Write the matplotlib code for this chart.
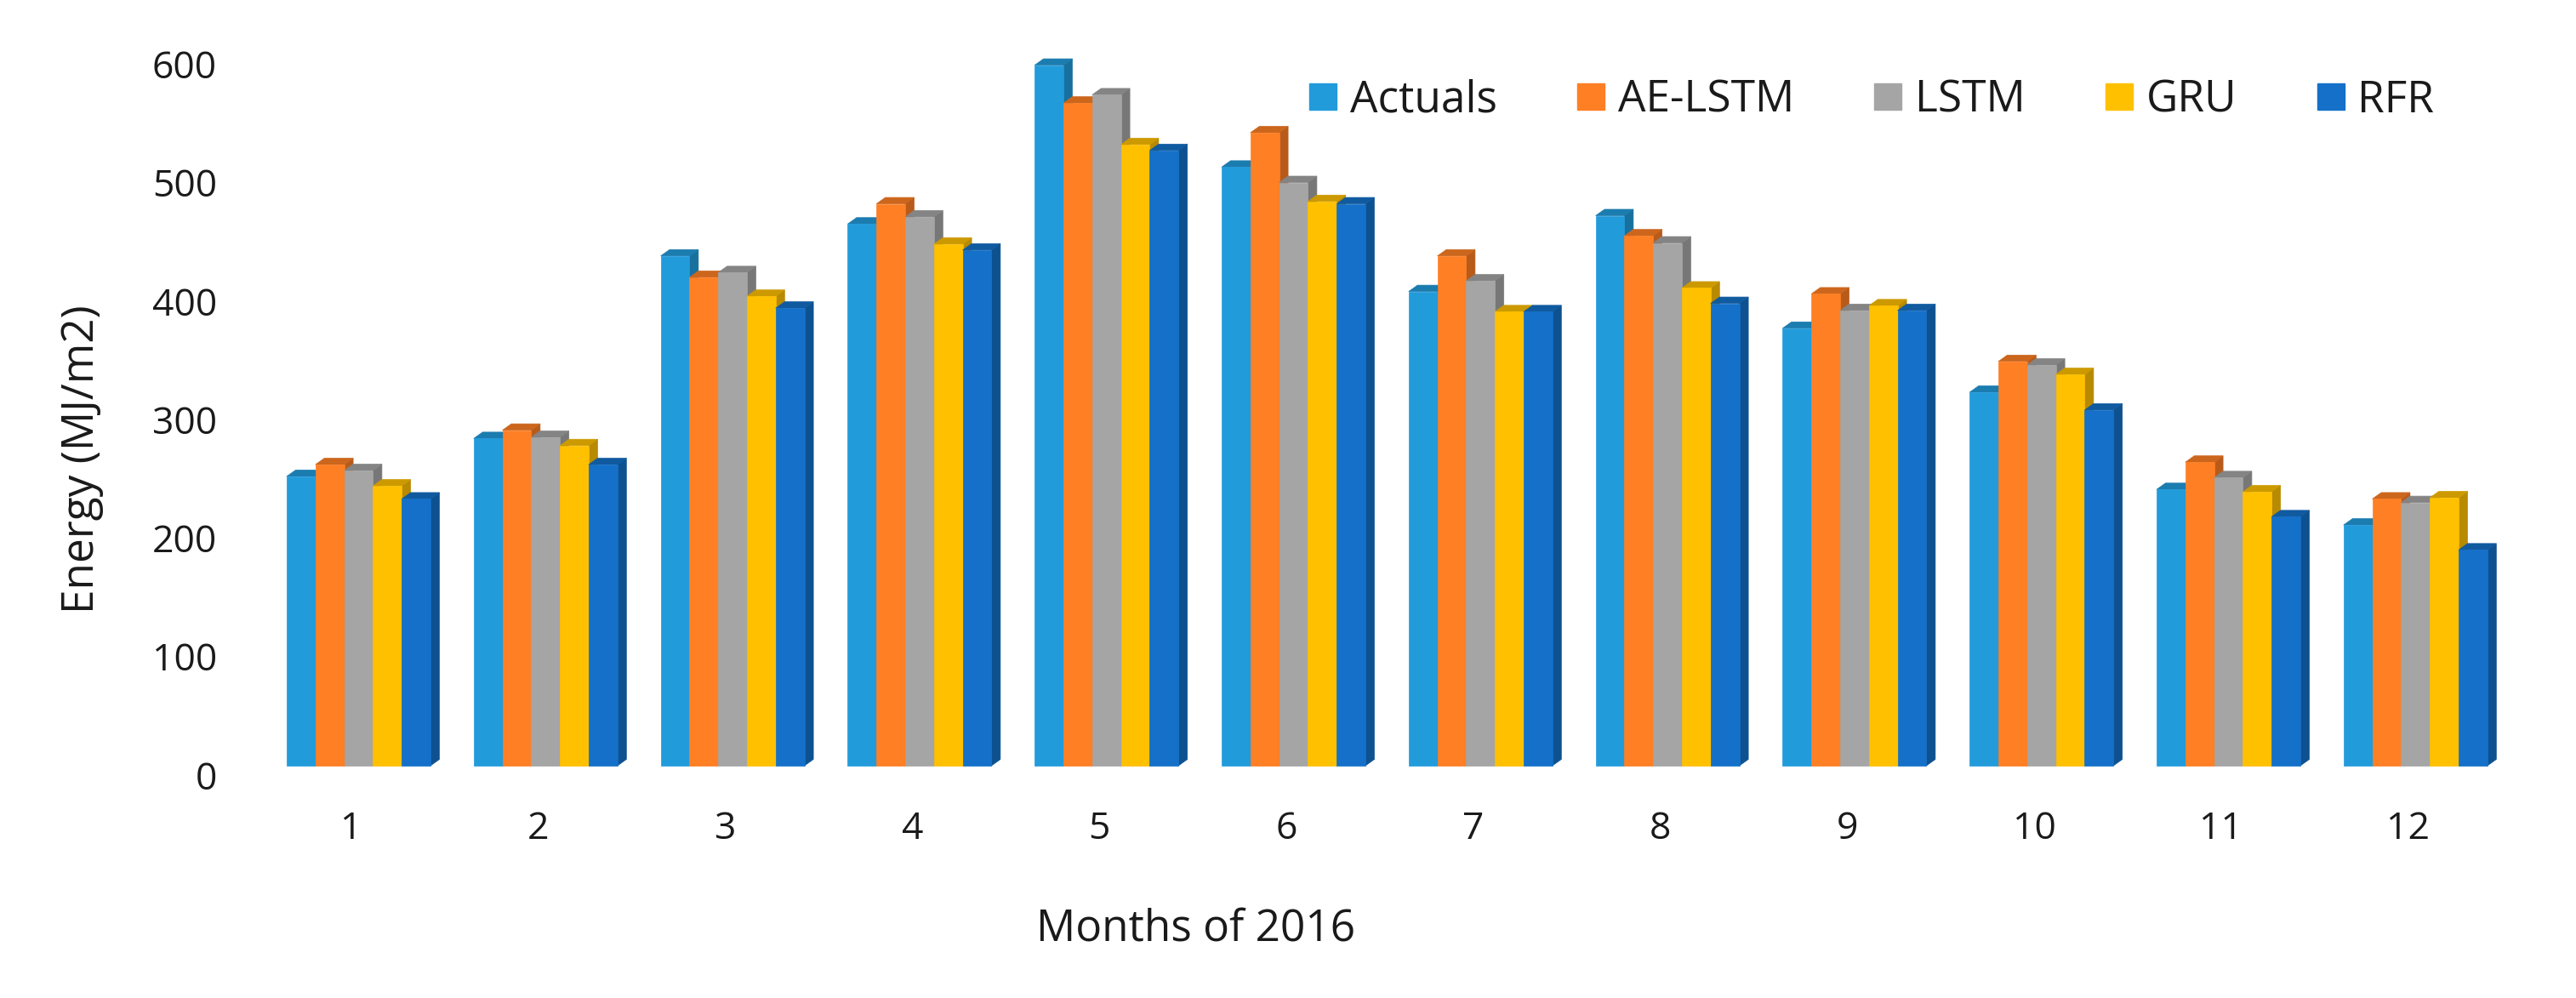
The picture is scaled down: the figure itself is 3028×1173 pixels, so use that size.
import matplotlib
matplotlib.use("Agg")
import matplotlib.pyplot as plt
from matplotlib.patches import Patch, Polygon, Rectangle
from matplotlib.colors import to_rgb

months = list(range(1, 13))
series_names = ["Actuals", "AE-LSTM", "LSTM", "GRU", "RFR"]
actuals = [252, 284, 438, 465, 599, 513, 408, 472, 377, 323, 241, 211]
ae_lstm = [262, 291, 420, 482, 567, 542, 438, 455, 406, 349, 264, 233]
lstm = [257, 285, 424, 471, 574, 500, 417, 449, 392, 346, 251, 230]
gru = [244, 278, 404, 448, 532, 484, 391, 411, 396, 338, 239, 234]
rfr = [233, 262, 394, 443, 527, 482, 391, 398, 392, 308, 218, 190]
series = [actuals, ae_lstm, lstm, gru, rfr]
colors = ["#229BDB", "#FF7F24", "#A5A5A5", "#FFC000", "#1470C8"]
yticks = [0, 100, 200, 300, 400, 500, 600]

W, H = 3028, 1173
plt.rcParams["font.family"] = ["Open Sans", "DejaVu Sans"]
fig = plt.figure(figsize=(W / 100, H / 100), dpi=100, facecolor="white")

px_per_month = 219.8
px_per_unit = 1.393
x0_px, y0_px = 413, 911          # pixel of month 1 and of value 0
left, right, top, bottom = 280, 2980, 20, 911
ax = fig.add_axes([left / W, 1 - bottom / H, (right - left) / W, (bottom - top) / H])
ax.set_xlim(1 + (left - x0_px) / px_per_month, 1 + (right - x0_px) / px_per_month)
ax.set_ylim(0, (y0_px - top) / px_per_unit)

bar_w = 33.8 / px_per_month
group_offset = 76 / px_per_month
dx = 10.5 / px_per_month
dy = 7.5 / px_per_unit
floor = 11 / px_per_unit


def shade(c, f):
    return tuple(v * f for v in to_rgb(c))


for i, m in enumerate(months):
    for j, vals in enumerate(series):
        v = vals[i]
        x = m - group_offset + j * bar_w
        c = colors[j]
        side = shade(c, 0.72)
        topc = shade(c, 0.80)
        ax.add_patch(Polygon([(x + bar_w, floor), (x + bar_w + dx, floor + dy),
                              (x + bar_w + dx, v + dy), (x + bar_w, v)],
                             closed=True, fc=side, ec=side, lw=0.5))
        ax.add_patch(Polygon([(x, v), (x + bar_w, v), (x + bar_w + dx, v + dy), (x + dx, v + dy)],
                             closed=True, fc=topc, ec=topc, lw=0.5))
        ax.add_patch(Rectangle((x, floor), bar_w, v - floor, fc=c, ec=c, lw=0.5))

for s in ax.spines.values():
    s.set_visible(False)
ax.set_xticks(months)
ax.set_xticklabels([str(m) for m in months])
ax.set_yticks(yticks)
ax.tick_params(axis="both", length=0, labelsize=32, labelcolor="#1a1a1a")
ax.tick_params(axis="x", pad=30)
ax.tick_params(axis="y", pad=18)

fig.text(1406 / W, 1 - 1092 / H, "Months of 2016", fontsize=37, color="#1a1a1a", ha="center", va="center")
fig.text(97 / W, 1 - 540 / H, "Energy (MJ/m2)", fontsize=37, color="#1a1a1a", rotation=90, ha="center", va="center")

legend_fs = 37
fs_px = legend_fs * 100 / 72
handles = [Patch(fc=c, ec=c, label=n) for n, c in zip(series_names, colors)]
fig.legend(handles=handles, loc="center left", bbox_to_anchor=(1539 / W, 1 - 118 / H), ncol=5,
           frameon=False, fontsize=legend_fs, borderpad=0, borderaxespad=0,
           handlelength=32 / fs_px, handleheight=29 / fs_px, handletextpad=16 / fs_px,
           columnspacing=94 / fs_px, labelcolor="#1a1a1a")

fig.savefig("out.png", dpi=100, facecolor="white")
